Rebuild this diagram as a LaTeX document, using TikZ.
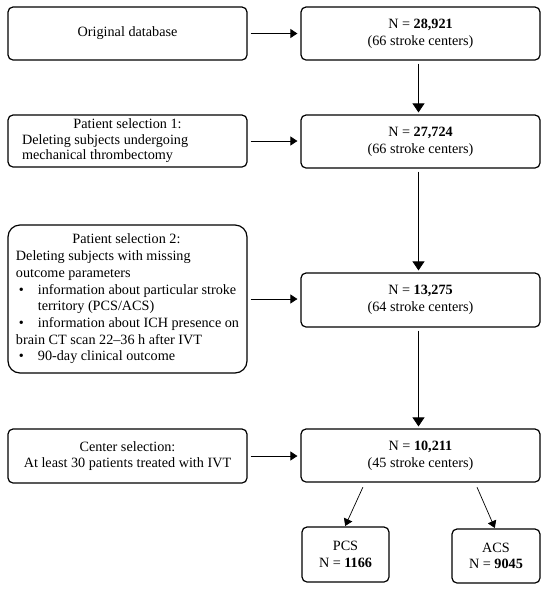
\documentclass[tikz,border=0pt]{standalone}
\usepackage{fontspec}
\setmainfont{Liberation Serif}
\usepackage{tikz}
\usetikzlibrary{positioning,calc,arrows.meta}

\tikzset{
  box/.style={draw,line width=1.2pt,rounded corners=5pt,align=center,inner sep=1pt},
  flow/.style={line width=0.7pt,-{Triangle[length=7pt,width=9pt]}},
  down/.style={line width=0.7pt,-{Triangle[length=9pt,width=12pt]}}
}

\begin{document}
\begin{tikzpicture}[x=1pt,y=-1pt,font=\fontsize{14.2}{16.7}\selectfont]
\useasboundingbox (0,0) rectangle (550,590);
% left column
\node[box,minimum width=239pt,minimum height=53pt] (orig) at (127.5,33.5) {Original database};
\node[box,minimum width=239pt,minimum height=52pt,align=left,font=\fontsize{14.2}{15.5}\selectfont] (sel1) at (127.5,141)
  {\makebox[211pt]{Patient selection 1:}\\Deleting subjects undergoing\\mechanical thrombectomy};
\node[box,rounded corners=12pt,minimum width=239pt,minimum height=148pt,align=left] (sel2) at (127.5,299)
  {\makebox[221pt]{Patient selection 2:}\\
   Deleting subjects with missing\\
   outcome parameters\\
   \makebox[22pt][l]{\hspace{3pt}\textbullet}information about particular stroke\\
   \hspace*{22pt}territory (PCS/ACS)\\
   \makebox[22pt][l]{\hspace{3pt}\textbullet}information about ICH presence on\\
   brain CT scan 22--36 h after IVT\\
   \makebox[22pt][l]{\hspace{3pt}\textbullet}90-day clinical outcome};
\node[box,minimum width=239pt,minimum height=54pt] (ctr) at (127.5,456)
  {Center selection:\\At least 30 patients treated with IVT};
% right column
\node[box,minimum width=239pt,minimum height=53pt] (n1) at (420.5,33.5) {N = \textbf{28,921}\\(66 stroke centers)};
\node[box,minimum width=239pt,minimum height=53pt] (n2) at (420.5,141.5) {N = \textbf{27,724}\\(66 stroke centers)};
\node[box,minimum width=239pt,minimum height=54pt] (n3) at (420.5,300) {N = \textbf{13,275}\\(64 stroke centers)};
\node[box,minimum width=239pt,minimum height=53pt] (n4) at (420.5,455.5) {N = \textbf{10,211}\\(45 stroke centers)};
\node[box,minimum width=87pt,minimum height=55pt] (pcs) at (345.5,554.5) {PCS\\N = \textbf{1166}};
\node[box,minimum width=88pt,minimum height=54pt] (acs) at (496,556) {ACS\\N = \textbf{9045}};
% arrows
\draw[flow,shorten <=3pt,shorten >=3pt] (orig) -- (n1);
\draw[flow,shorten <=3pt,shorten >=3pt] (sel1) -- (sel1 -| n2.west);
\draw[flow,shorten <=3pt,shorten >=3pt] (sel2.east) -- (sel2.east -| n3.west);
\draw[flow,shorten <=3pt,shorten >=3pt] (ctr.east) -- (ctr.east -| n4.west);
\draw[down,shorten <=3pt,shorten >=2pt] ([xshift=-2pt]n1.south) -- ([xshift=-2pt]n2.north);
\draw[down,shorten <=3pt,shorten >=2pt] ([xshift=-2pt]n2.south) -- ([xshift=-2pt]n3.north);
\draw[down,shorten <=3pt,shorten >=2pt] ([xshift=-2pt]n3.south) -- ([xshift=-2pt]n4.north);
\draw[flow,shorten <=5pt,shorten >=0.5pt] ([xshift=-55.5pt]n4.south) -- ([xshift=-0.5pt]pcs.north);
\draw[flow,shorten <=5pt,shorten >=0.5pt] ([xshift=54.5pt]n4.south) -- ([xshift=-1pt]acs.north);
\end{tikzpicture}
\end{document}
